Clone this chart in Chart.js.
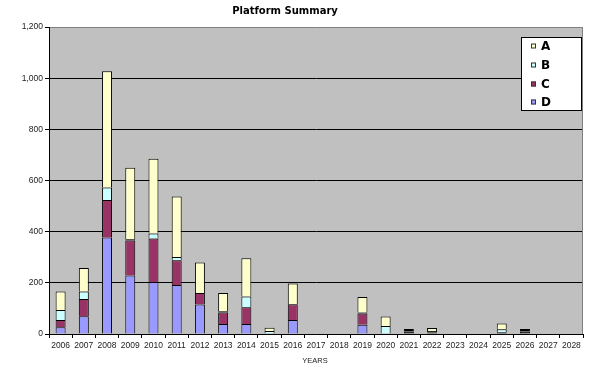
<!DOCTYPE html>
<html>
<head>
<meta charset="utf-8">
<script src="https://cdn.jsdelivr.net/npm/chart.js@4"></script>
<style>
  html, body { margin: 0; padding: 0; background: #fff; }
  #wrap { width: 600px; height: 369px; }
</style>
</head>
<body>
<div id="wrap"><canvas id="platformChart"></canvas></div>
<script>
const years = ['2006','2007','2008','2009','2010','2011','2012','2013','2014','2015','2016','2017',
               '2018','2019','2020','2021','2022','2023','2024','2025','2026','2027','2028'];
const seriesA = [72, 92, 454, 280, 292, 236, 119, 71, 149, 12, 81, 0, 0, 61, 37, 0, 11, 0, 0, 22, 0, 0, 0];
const seriesB = [39, 29, 49, 5, 20, 13, 0, 5, 42, 12, 0, 0, 0, 4, 31, 0, 0, 0, 0, 12, 0, 0, 0];
const seriesC = [29, 68, 147, 136, 170, 96, 45, 45, 66, 0, 61, 0, 0, 44, 0, 10, 6, 0, 0, 0, 10, 0, 0];
const seriesD = [26, 69, 377, 229, 203, 192, 115, 39, 39, 0, 55, 0, 0, 36, 0, 10, 6, 0, 0, 7, 10, 0, 0];
const yTicks = [0, 200, 400, 600, 800, 1000, 1200];

const tickFont = { family: 'Liberation Sans, Arial, sans-serif', size: 8.5 };

// grey plot area, title, axis title and the boxed legend
const decor = {
  id: 'decor',
  beforeDraw(chart) {
    const { ctx, chartArea: a } = chart;
    ctx.save();
    ctx.fillStyle = '#fff';
    ctx.fillRect(0, 0, chart.width, chart.height);
    ctx.fillStyle = '#c0c0c0';
    ctx.fillRect(a.left, a.top, a.right - a.left, a.bottom - a.top);
    ctx.restore();
  },
  afterDraw(chart) {
    const { ctx, chartArea: a } = chart;
    ctx.save();
    // right edge of plot
    ctx.strokeStyle = '#808080';
    ctx.lineWidth = 1;
    ctx.beginPath();
    ctx.moveTo(a.right - 0.5, a.top);
    ctx.lineTo(a.right - 0.5, a.bottom);
    ctx.stroke();

    ctx.fillStyle = '#000';
    ctx.textAlign = 'center';
    ctx.textBaseline = 'middle';
    ctx.font = 'bold 10px "DejaVu Sans", Verdana, sans-serif';
    ctx.fillText('Platform Summary', 285, 11);
    ctx.font = '7.5px "Liberation Sans", Arial, sans-serif';
    ctx.fillStyle = '#222';
    ctx.fillText('YEARS', 315, 361);

    // legend box, A on top
    const bx = 521.5, by = 37.5, bw = 60, bh = 73;
    ctx.fillStyle = '#fff';
    ctx.fillRect(bx, by, bw, bh);
    ctx.strokeStyle = '#000';
    ctx.strokeRect(bx, by, bw, bh);
    const rows = [46, 65, 84, 102];
    ctx.textAlign = 'left';
    ctx.font = 'bold 12px "DejaVu Sans", Verdana, sans-serif';
    const sets = chart.data.datasets.slice().reverse();
    sets.forEach((ds, i) => {
      const y = rows[i];
      ctx.fillStyle = ds.baseColor;
      ctx.fillRect(531, y - 2.5, 5, 5);
      ctx.strokeStyle = '#333';
      ctx.strokeRect(531.5, y - 2, 4, 4);
      ctx.fillStyle = '#000';
      ctx.fillText(ds.label, 541, y + 1);
    });
    ctx.restore();
  }
};

function makeSet(label, data, color) {
  return {
    label: label,
    data: data,
    baseColor: color,
    // very thin slices come out as solid outline in the original
    backgroundColor: c => (c.raw > 0 && c.raw <= 10 ? '#000' : color),
    borderColor: '#000',
    borderWidth: 1,
    categoryPercentage: 1,
    barPercentage: 0.43
  };
}

new Chart(document.getElementById('platformChart').getContext('2d'), {
  type: 'bar',
  data: {
    labels: years,
    datasets: [
      makeSet('D', seriesD, '#9999ff'),
      makeSet('C', seriesC, '#993366'),
      makeSet('B', seriesB, '#ccffff'),
      makeSet('A', seriesA, '#ffffcc')
    ]
  },
  options: {
    responsive: true,
    maintainAspectRatio: false,
    animation: false,
    layout: { padding: { top: 27, right: 17, left: 0, bottom: 0 } },
    plugins: {
      legend: { display: false },
      title: { display: false },
      tooltip: { enabled: false }
    },
    scales: {
      x: {
        stacked: true,
        afterFit(scale) { scale.height = 35; },
        grid: { display: true, drawOnChartArea: false, offset: true, tickLength: 4, color: '#000' },
        border: { color: '#000', width: 1 },
        ticks: { font: tickFont, color: '#222', padding: 3, maxRotation: 0, autoSkip: false }
      },
      y: {
        stacked: true,
        min: 0,
        max: 1200,
        afterFit(scale) { scale.width = 49; },
        afterBuildTicks(scale) { scale.ticks = yTicks.map(v => ({ value: v })); },
        grid: {
          color: ctx => (ctx.tick && ctx.tick.value === 1200 ? '#808080' : '#000'),
          tickColor: '#000',
          tickLength: 4
        },
        border: { color: '#000', width: 1 },
        ticks: {
          font: tickFont,
          color: '#222',
          padding: 2,
          callback: v => Number(v).toLocaleString('en-US')
        }
      }
    }
  },
  plugins: [decor]
});
</script>
</body>
</html>
